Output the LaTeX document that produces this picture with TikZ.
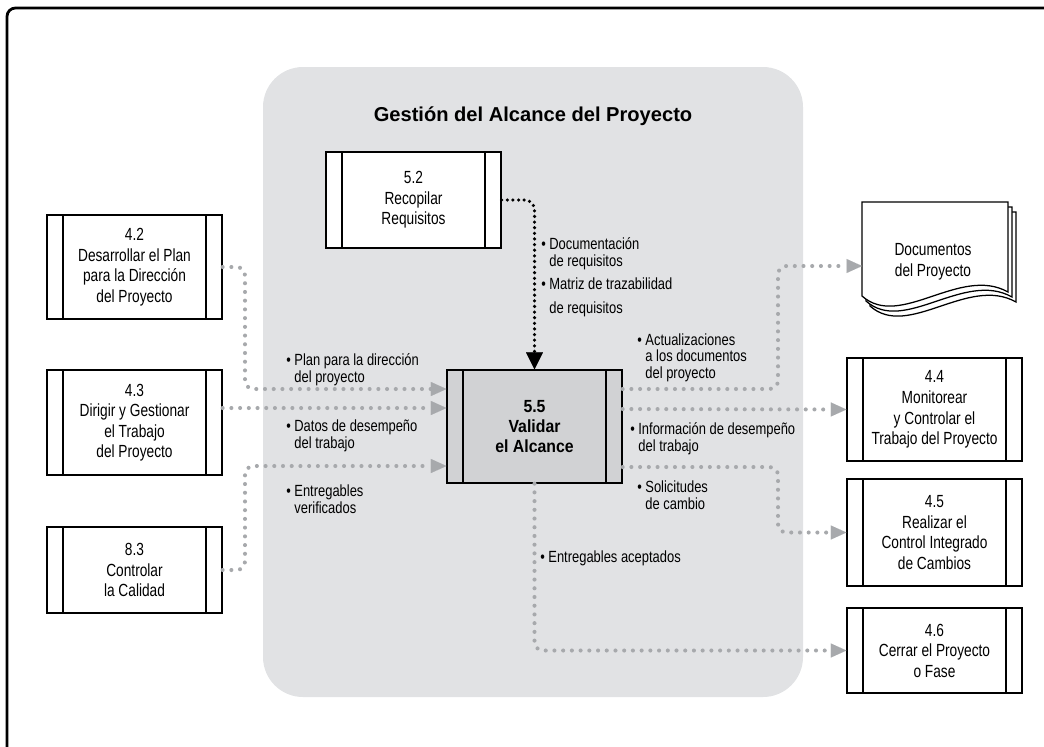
\documentclass[tikz,border=0pt]{standalone}
\usepackage{fontspec}
\setmainfont{Liberation Sans}
\newfontfamily\boxfont{Liberation Sans}[FakeStretch=0.78]
\newfontfamily\lblfont{Liberation Sans}[FakeStretch=0.8]
\newfontfamily\keyfont{Liberation Sans}[FakeStretch=0.9]
\usetikzlibrary{arrows.meta}
\definecolor{areagray}{HTML}{E1E2E4}
\definecolor{flowgray}{HTML}{A7A9AC}
\definecolor{keygray}{HTML}{D1D2D4}
\newcommand{\itembul}{\textbullet\ }
\newcommand{\itemind}{\phantom{\textbullet\ }}

\begin{document}
\begin{tikzpicture}[x=0.025cm,y=-0.025cm,
  procbox/.style={draw,line width=0.9pt,fill=white,minimum width=4.375cm,
    align=center,inner sep=0pt,font=\boxfont\fontsize{12.5}{14.6}\selectfont,
    path picture={\draw[line width=0.9pt]
      ([xshift=0.4cm]path picture bounding box.north west) -- ([xshift=0.4cm]path picture bounding box.south west)
      ([xshift=-0.4cm]path picture bounding box.north east) -- ([xshift=-0.4cm]path picture bounding box.south east);}},
  flow/.style={draw=flowgray,line width=2.9pt,line cap=round,dash pattern=on 0pt off 6.2pt,
    rounded corners=6pt,-{Triangle[length=11pt,width=10pt,line width=0.01pt,fill=flowgray]}},
  blackflow/.style={draw=black,line width=2.5pt,line cap=round,dash pattern=on 0pt off 4pt,
    rounded corners=7pt,-{Triangle[length=12pt,width=12pt,line width=0.01pt]}},
  lbl/.style={anchor=base west,inner sep=0pt,align=left,font=\lblfont\fontsize{11.5}{11.5}\selectfont}]
  \useasboundingbox (0,0) rectangle (1044,746);
  % frame and process group
  \draw[line width=2pt,rounded corners=6pt] (7,8) rectangle (1070,770);
  \fill[areagray,rounded corners=1cm] (263,67) rectangle (803,697);
  \node[font=\bfseries\fontsize{14.3}{16}\selectfont] (title) at (533,116) {Gestión del Alcance del Proyecto};

  % processes
  \node[procbox,minimum height=2.4cm] (p52) at (413.5,200) {5.2\\Recopilar\\Requisitos};
  \node[procbox,minimum height=2.6cm] (p42) at (134.5,267) {4.2\\Desarrollar el Plan\\para la Dirección\\del Proyecto};
  \node[procbox,minimum height=2.625cm] (p43) at (134.5,422.5) {4.3\\Dirigir y Gestionar\\el Trabajo\\del Proyecto};
  \node[procbox,minimum height=2.15cm] (p83) at (134.5,570) {8.3\\Controlar\\la Calidad};
  \node[procbox,fill=keygray,minimum height=2.825cm,font=\keyfont\bfseries\fontsize{12.5}{14.5}\selectfont] (p55) at (534.5,426.5) {5.5\\Validar\\el Alcance};
  \node[procbox,minimum height=2.575cm] (p44) at (934.5,409.5) {4.4\\Monitorear\\y Controlar el\\Trabajo del Proyecto};
  \node[procbox,minimum height=2.675cm] (p45) at (934.5,532.5) {4.5\\Realizar el\\Control Integrado\\de Cambios};
  \node[procbox,minimum height=2.125cm] (p46) at (934.5,650.5) {4.6\\Cerrar el Proyecto\\o Fase};

  % project documents
  \foreach \d in {8,4,0}
    \draw[line width=0.9pt,fill=white,shift={(\d,1.25*\d)}] (862,202) -- (1008,202) -- (1008,292)
      .. controls (960,265) and (900,330) .. (862,296) -- cycle;
  \node[font=\boxfont\fontsize{12.5}{14.6}\selectfont,align=center] (docs) at (933,262) {Documentos\\del Proyecto};
  \coordinate (docin) at (862,266);

  % flows
  \draw[blackflow] (p52.east) -| (p55.north);
  \draw[flow] (p42.east) -| (245,389) -- (p55.west |- 0,389);
  \draw[flow] (p43.east |- 0,408) -- (p55.west |- 0,408);
  \draw[flow] (p83.east) -| (245,466) -- (p55.west |- 0,466);
  \draw[flow] (p55.east |- 0,389) -| (778,266) -- (docin);
  \draw[flow] (p55.east |- 0,409) -- (p44.west);
  \draw[flow] (p55.east |- 0,467) -| (778,532.5) -- (p45.west);
  \draw[flow] (p55.south) |- (p46.west);

  % labels (base = last line)
  \node[lbl] (lbldoc) at (541,266) {\itembul Documentación\\\itemind de requisitos};
  \node[lbl] (lblmat) at (541,313) {\itembul Matriz de trazabilidad\\[5pt]\itemind de requisitos};
  \node[lbl] (lblplan) at (286,382) {\itembul Plan para la dirección\\\itemind del proyecto};
  \node[lbl] (lbldatos) at (286,448) {\itembul Datos de desempeño\\\itemind del trabajo};
  \node[lbl] (lblver) at (286,513) {\itembul Entregables\\\itemind verificados};
  \node[lbl] (lblact) at (637,378) {\itembul Actualizaciones\\\itemind a los documentos\\\itemind del proyecto};
  \node[lbl] (lblinfo) at (630,451) {\itembul Información de desempeño\\\itemind del trabajo};
  \node[lbl] (lblsol) at (637,509) {\itembul Solicitudes\\\itemind de cambio};
  \node[lbl] (lblacep) at (540,562) {\itembul Entregables aceptados};
\end{tikzpicture}
\end{document}
